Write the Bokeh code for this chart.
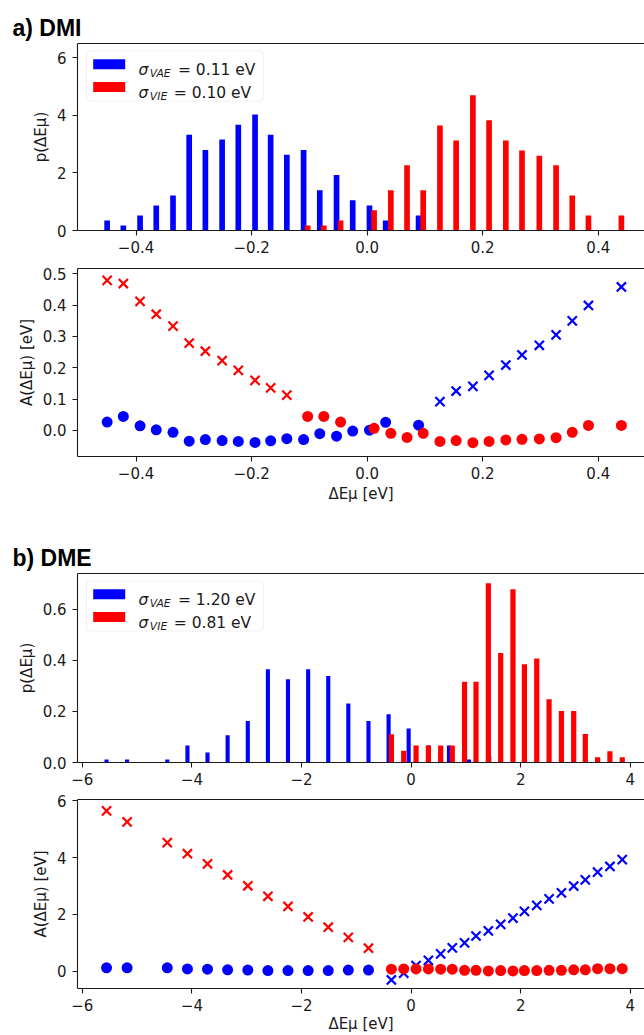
from bokeh.plotting import figure
from bokeh.models import (Range1d, FixedTicker, CustomJSTickFormatter, LinearAxis,
                          Label, BoxAnnotation)
from bokeh.layouts import column
from bokeh.embed import file_html
from bokeh.resources import INLINE

# ---------------- data: a) DMI ----------------
dmi_vae_x = [-0.450, -0.422, -0.393, -0.365, -0.336, -0.308, -0.280, -0.251, -0.223, -0.194,
             -0.167, -0.139, -0.110, -0.082, -0.053, -0.025, 0.004, 0.032, 0.089]
dmi_vae_p = [0.35, 0.17, 0.52, 0.87, 1.22, 3.33, 2.80, 3.16, 3.68, 4.03,
             3.33, 2.63, 2.80, 1.40, 1.93, 1.05, 0.87, 0.35, 0.52]
dmi_vie_x = [-0.103, -0.075, -0.046, 0.012, 0.041, 0.069, 0.097, 0.126, 0.154, 0.183,
             0.211, 0.240, 0.268, 0.298, 0.327, 0.355, 0.383, 0.440]
dmi_vie_p = [0.17, 0.17, 0.35, 0.70, 1.40, 2.27, 1.40, 3.65, 3.13, 4.70,
             3.83, 3.13, 2.78, 2.60, 2.27, 1.22, 0.52, 0.52]
# A(dE) values
dmi_vae_A = [0.027, 0.045, 0.015, 0.002, -0.006, -0.034, -0.029, -0.032, -0.035, -0.038,
             -0.033, -0.026, -0.029, -0.010, -0.018, -0.002, 0.001, 0.026, 0.017]
dmi_vie_A = [0.045, 0.045, 0.027, 0.007, -0.009, -0.022, -0.009, -0.035, -0.032, -0.039,
             -0.035, -0.030, -0.028, -0.027, -0.023, -0.006, 0.016, 0.016]
dmi_cross_red_x = [-0.450, -0.422, -0.393, -0.365, -0.336, -0.308, -0.280, -0.251, -0.223,
                   -0.194, -0.167, -0.139]
dmi_cross_red_A = [0.479, 0.469, 0.412, 0.371, 0.333, 0.279, 0.253, 0.223, 0.192, 0.160,
                   0.136, 0.113]
dmi_cross_blue_x = [0.126, 0.154, 0.183, 0.211, 0.240, 0.268, 0.298, 0.327, 0.355, 0.383, 0.440]
dmi_cross_blue_A = [0.092, 0.126, 0.141, 0.176, 0.209, 0.241, 0.272, 0.305, 0.350, 0.399, 0.458]
dmi_sigma = ["0.11", "0.10"]

# ---------------- data: b) DME ----------------
dme_vae_x = [-5.557, -5.182, -4.449, -4.081, -3.715, -3.348, -2.980, -2.613, -2.247, -1.879,
             -1.512, -1.146, -0.778, -0.411, -0.045, 0.324, 0.690, 1.056, 1.425]
dme_vae_p = [0.012, 0.012, 0.012, 0.067, 0.039, 0.107, 0.162, 0.365, 0.326, 0.365,
             0.339, 0.231, 0.162, 0.189, 0.133, 0.067, 0.067, 0.012, 0.025]
dme_vie_x = [-0.360, -0.135, 0.090, 0.315, 0.539, 0.751, 0.975, 1.184, 1.409, 1.634,
             1.858, 2.067, 2.292, 2.517, 2.742, 2.966, 3.178, 3.402, 3.627, 3.852]
dme_vie_p = [0.111, 0.046, 0.067, 0.067, 0.067, 0.067, 0.316, 0.316, 0.702, 0.429,
             0.678, 0.385, 0.407, 0.248, 0.202, 0.202, 0.112, 0.021, 0.044, 0.021]
dme_dot_blue_x = [-5.557, -5.182, -4.449, -4.081, -3.715, -3.348, -2.980, -2.613, -2.247,
                  -1.879, -1.512, -1.146, -0.778]
dme_dot_blue_A = [0.12, 0.12, 0.12, 0.08, 0.07, 0.05, 0.04, 0.02, 0.02, 0.02, 0.02, 0.04, 0.04]
dme_cross_red_A = [5.65, 5.26, 4.53, 4.14, 3.78, 3.39, 3.01, 2.64, 2.28, 1.91, 1.55, 1.19, 0.81]
dme_cross_blue_A = [-0.31, -0.07, 0.20, 0.38, 0.61, 0.82, 1.00, 1.24, 1.42, 1.65,
                    1.87, 2.11, 2.32, 2.55, 2.76, 3.00, 3.22, 3.49, 3.69, 3.93]
dme_dot_red_A = [0.07, 0.08, 0.08, 0.08, 0.07, 0.07, 0.03, 0.03, 0.01, 0.02,
                 0.01, 0.02, 0.02, 0.03, 0.03, 0.05, 0.05, 0.09, 0.09, 0.09]
dme_sigma = ["1.20", "0.81"]

# ---------------- ticks / labels ----------------
dmi_xticks = [-0.4, -0.2, 0.0, 0.2, 0.4]
dmi_p_ticks = [0, 2, 4, 6]
dmi_A_ticks = [0.0, 0.1, 0.2, 0.3, 0.4, 0.5]
dme_xticks = [-6, -4, -2, 0, 2, 4]
dme_p_ticks = [0.0, 0.2, 0.4, 0.6]
dme_A_ticks = [0, 2, 4, 6]
P_LABEL = "p(ΔEμ)"
A_LABEL = "A(ΔEμ) [eV]"
X_LABEL = "ΔEμ [eV]"

BLUE = "#0000ff"
RED = "#ff0000"
INK = "#1a1a1a"
FONT = "DejaVu Sans"
FS = "15px"
FW = 567  # frame width

EM = {' ': 0.318, '(': 0.390, ')': 0.390, '[': 0.390, ']': 0.390, 'A': 0.684, 'E': 0.632,
      'V': 0.684, 'I': 0.295, 'e': 0.615, 'p': 0.635, 'Δ': 0.684, 'μ': 0.636, 'σ': 0.634,
      '=': 0.838, '.': 0.318, '−': 0.838}


def width(t, s):
    return sum(EM.get(ch, 0.636 if ch.isdigit() else 0.6) for ch in t) * s


def rich(p, pieces, x0, cy, size):
    """Text made of pieces (text, italic, subscript), screen units inside the frame."""
    pos = x0
    base = 0.36 * size
    for t, it, sub in pieces:
        s = size * 0.7 if sub else size
        lead = len(t) - len(t.lstrip(" "))
        pos += width(" " * lead, s)
        t = t.lstrip(" ")
        drop = 0.22 * size if sub else 0.0
        p.add_layout(Label(x=pos, y=cy - base - drop, x_units="screen", y_units="screen",
                           text=t, text_font=FONT, text_font_size=f"{s:.1f}px",
                           text_font_style="italic" if it else "normal",
                           text_color=INK, text_align="left", text_baseline="alphabetic"))
        pos += width(t, s) + (1.5 if it else 0.0)


def make_fig(fh, btop, bbot, xr, yr, xticks, yticks, xdec, ydec, ylabel,
             xlabel=None, xstand=0):
    p = figure(frame_width=FW, frame_height=fh, min_border_left=77, min_border_right=0,
               min_border_top=btop, min_border_bottom=bbot,
               x_range=Range1d(*xr), y_range=Range1d(*yr),
               output_backend="svg", toolbar_location=None)
    p.grid.visible = False
    p.outline_line_color = None
    p.background_fill_color = "white"
    p.border_fill_color = "white"
    for ax, ticks, dec in ((p.xaxis[0], xticks, xdec), (p.yaxis[0], yticks, ydec)):
        ax.ticker = FixedTicker(ticks=ticks)
        ax.formatter = CustomJSTickFormatter(
            code=f"return tick.toFixed({dec}).replace('-', '\u2212');")
        ax.major_tick_out = 5
        ax.major_tick_in = 0
        ax.minor_tick_line_color = None
        ax.axis_line_color = INK
        ax.axis_line_width = 1.1
        ax.major_tick_line_color = INK
        ax.major_tick_line_width = 1.1
        ax.major_label_text_font = FONT
        ax.major_label_text_font_size = FS
        ax.major_label_text_color = INK
        ax.axis_label_text_font = FONT
        ax.axis_label_text_font_size = FS
        ax.axis_label_text_font_style = "normal"
        ax.axis_label_text_color = INK
    p.xaxis[0].major_label_standoff = 5
    p.yaxis[0].major_label_standoff = 6
    p.yaxis[0].axis_label = ylabel
    p.yaxis[0].axis_label_standoff = 4
    if xlabel:
        p.xaxis[0].axis_label = xlabel
        p.xaxis[0].axis_label_standoff = xstand
    top = LinearAxis(ticker=FixedTicker(ticks=[]), axis_line_color=INK, axis_line_width=1.1,
                     major_label_text_font_size="0px", major_tick_out=0, major_tick_in=0,
                     minor_tick_out=0, minor_tick_in=0, major_label_standoff=0)
    p.add_layout(top, "above")
    return p


def legend(p, fh, sigmas):
    p.add_layout(BoxAnnotation(left=9, right=186, top=fh - 7.5, bottom=fh - 57.5,
                               left_units="screen", right_units="screen",
                               top_units="screen", bottom_units="screen",
                               fill_color="white", fill_alpha=0.85,
                               line_color="#cccccc", line_width=1, border_radius=4))
    for k, (col, sub) in enumerate(((BLUE, "VAE"), (RED, "VIE"))):
        cy = fh - 20.8 - 22.8 * k
        p.add_layout(BoxAnnotation(left=15.7, right=47.7, top=cy + 5, bottom=cy - 5,
                                   left_units="screen", right_units="screen",
                                   top_units="screen", bottom_units="screen",
                                   fill_color=col, fill_alpha=1.0, line_color=None))
        rich(p, [("σ", True, False), (sub, True, True), (f" = {sigmas[k]} eV", False, False)],
             61, cy, 15.5)


def title(p, text):
    p.title.text = text
    p.title.align = "left"
    p.title.offset = -65
    p.title.standoff = 5
    p.title.text_font = "Liberation Sans"
    p.title.text_font_style = "bold"
    p.title.text_font_size = "23px"
    p.title.text_color = "#000000"


# ---------------- a) DMI histogram ----------------
h1 = make_fig(187, 43, 32, (-0.5013, 0.480), (0, 6.5), dmi_xticks, dmi_p_ticks, 1, 0, P_LABEL)
h1.vbar(x=dmi_vae_x, top=dmi_vae_p, bottom=0, width=0.0098, fill_color=BLUE, line_color=None)
h1.vbar(x=dmi_vie_x, top=dmi_vie_p, bottom=0, width=0.0098, fill_color=RED, line_color=None)
title(h1, "a) DMI")
legend(h1, 187, dmi_sigma)

# ---------------- a) DMI A(dE) ----------------
s1 = make_fig(188, 6, 64, (-0.5013, 0.480), (-0.083, 0.517), dmi_xticks, dmi_A_ticks, 1, 1,
              A_LABEL, X_LABEL, 3)
s1.scatter(dmi_vae_x, dmi_vae_A, marker="circle", size=11, fill_color=BLUE, line_color=None)
s1.scatter(dmi_cross_blue_x, dmi_cross_blue_A, marker="x", size=13, line_color=BLUE, line_width=2.2)
s1.scatter(dmi_vie_x, dmi_vie_A, marker="circle", size=11, fill_color=RED, line_color=None)
s1.scatter(dmi_cross_red_x, dmi_cross_red_A, marker="x", size=13, line_color=RED, line_width=2.2)

# ---------------- b) DME histogram ----------------
h2 = make_fig(189, 53, 30, (-6.087, 4.258), (0, 0.74), dme_xticks, dme_p_ticks, 0, 1, P_LABEL)
h2.vbar(x=dme_vae_x, top=dme_vae_p, bottom=0, width=0.075, fill_color=BLUE, line_color=None)
h2.vbar(x=dme_vie_x, top=dme_vie_p, bottom=0, width=0.095, fill_color=RED, line_color=None)
title(h2, "b) DME")
legend(h2, 189, dme_sigma)

# ---------------- b) DME A(dE) ----------------
s2 = make_fig(189, 7, 46, (-6.087, 4.258), (-0.61, 6.05), dme_xticks, dme_A_ticks, 0, 0,
              A_LABEL, X_LABEL, 1)
s2.scatter(dme_dot_blue_x, dme_dot_blue_A, marker="circle", size=11, fill_color=BLUE, line_color=None)
s2.scatter(dme_vie_x, dme_cross_blue_A, marker="x", size=13, line_color=BLUE, line_width=2.2)
s2.scatter(dme_vie_x, dme_dot_red_A, marker="circle", size=11, fill_color=RED, line_color=None)
s2.scatter(dme_dot_blue_x, dme_cross_red_A, marker="x", size=13, line_color=RED, line_width=2.2)

layout = column(h1, s1, h2, s2, spacing=0)
open("out.html", "w").write(file_html(layout, INLINE))
